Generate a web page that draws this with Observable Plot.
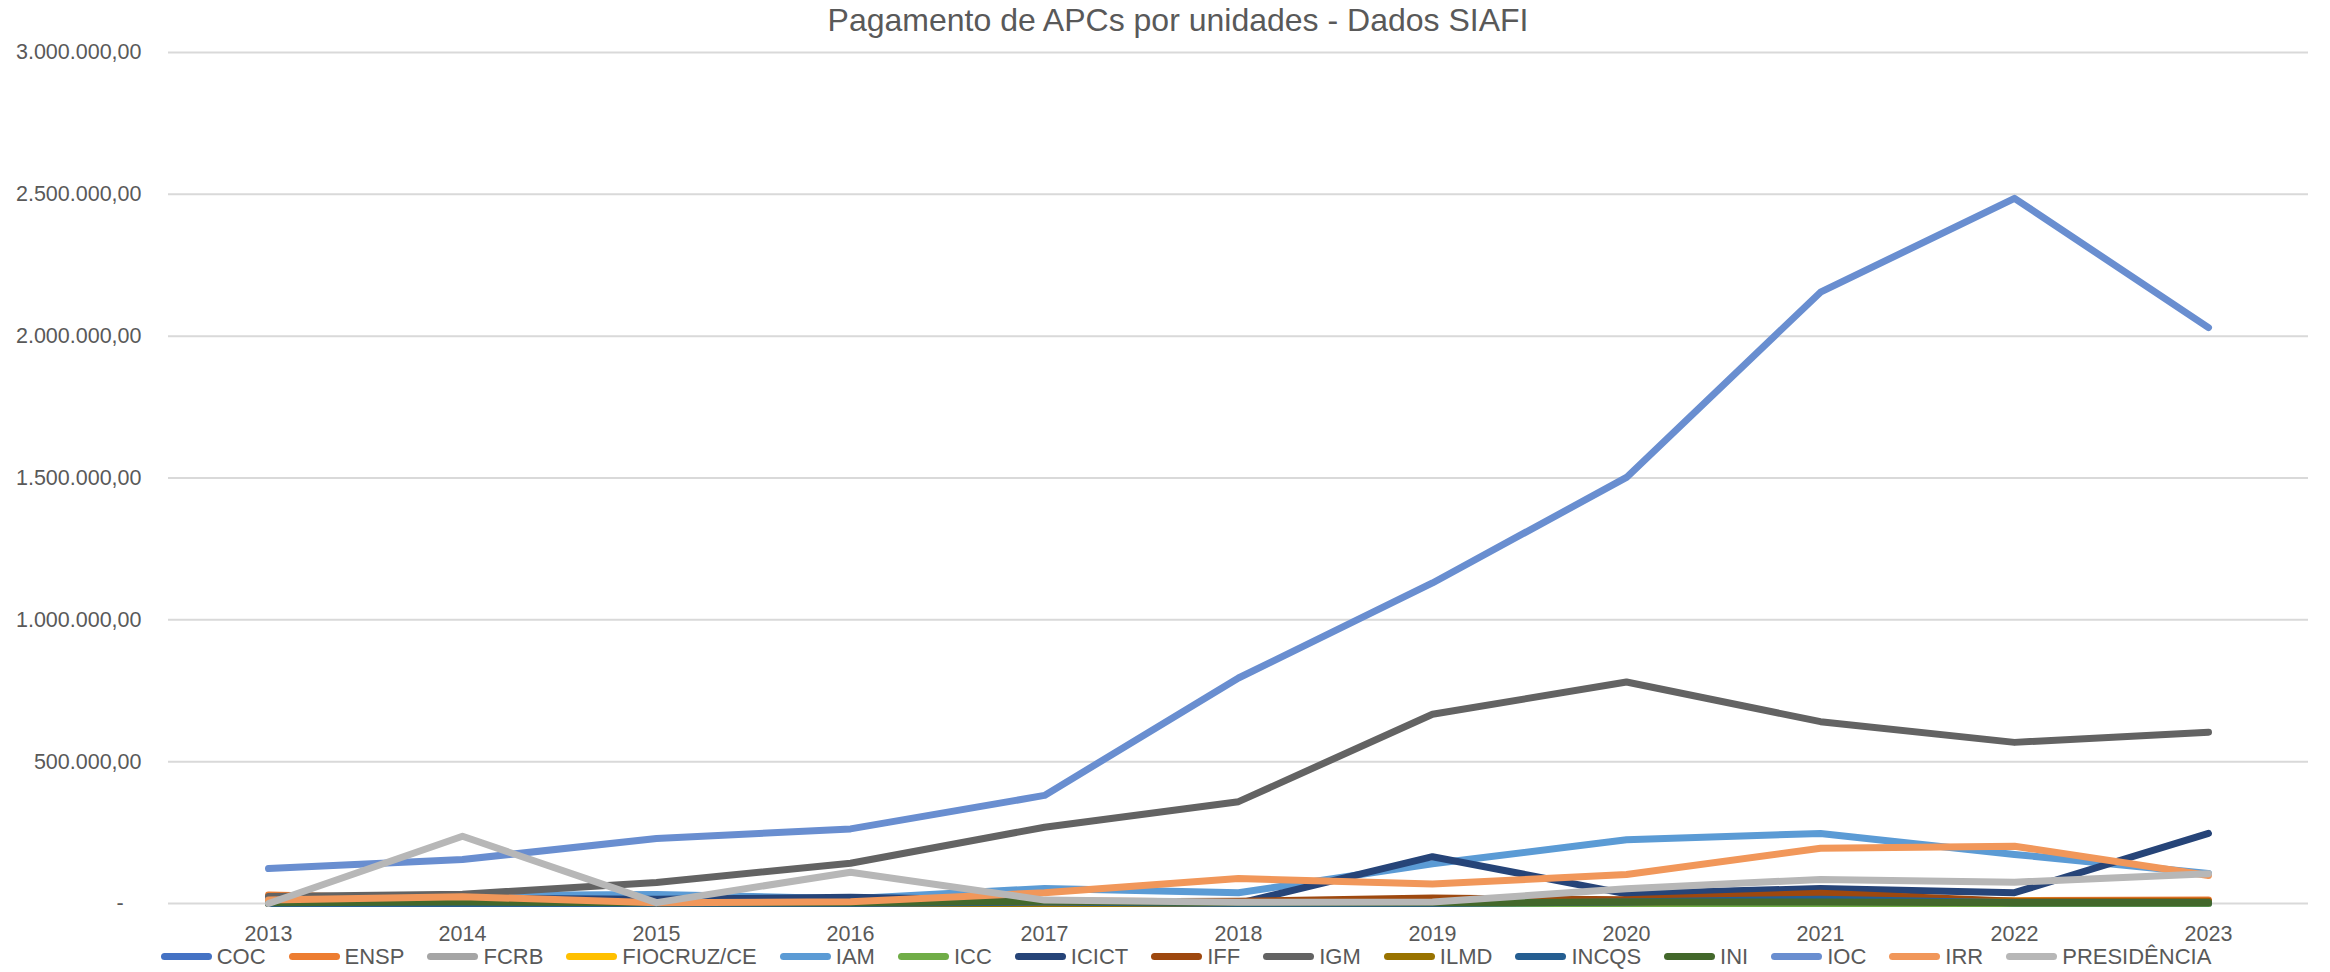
<!DOCTYPE html>
<html>
<head>
<meta charset="utf-8">
<script src="https://cdn.jsdelivr.net/npm/d3@7"></script>
<script src="https://cdn.jsdelivr.net/npm/@observablehq/plot@0.6"></script>
<style>
  html, body { margin: 0; padding: 0; background: #fff; }
  body { width: 2330px; height: 972px; overflow: hidden; font-family: "Liberation Sans", Arial, sans-serif; color: #595959; }
  #title { height: 40px; line-height: 40px; text-align: center; font-size: 32px; padding-left: 26px; box-sizing: border-box; color: #595959; }
  #legend { display: flex; justify-content: center; align-items: center; height: 27px; font-size: 22px; padding-left: 42px; margin-top: -2px; }
  .item { display: flex; align-items: center; margin: 0 11.5px; }
  .sw { display: inline-block; width: 51px; height: 7px; border-radius: 3.5px; margin-right: 5px; }
</style>
</head>
<body>
<div id="title">Pagamento de APCs por unidades - Dados SIAFI</div>
<div id="chart"></div>
<div id="legend"></div>
<script>
const years = [2013, 2014, 2015, 2016, 2017, 2018, 2019, 2020, 2021, 2022, 2023];
const seriesNames = ["COC", "ENSP", "FCRB", "FIOCRUZ/CE", "IAM", "ICC", "ICICT", "IFF", "IGM", "ILMD", "INCQS", "INI", "IOC", "IRR", "PRESIDÊNCIA"];
const seriesColors = ["#4472C4", "#ED7D31", "#A5A5A5", "#FFC000", "#5B9BD5", "#70AD47", "#264478", "#9E480E", "#636363", "#997300", "#255E91", "#43682B", "#698ED0", "#F1975A", "#B7B7B7"];
const yTicks = [0, 500000, 1000000, 1500000, 2000000, 2500000, 3000000];

const COC = [3000, 2000, 0, 0, 5000, 0, 0, 5000, 10000, 0, 0];
const ENSP = [30000, 15000, 5000, 5000, 10000, 5000, 5000, 10000, 15000, 10000, 12000];
const FCRB = [0, 0, 0, 0, 0, 0, 0, 0, 2000, 0, 0];
const FIOCRUZ_CE = [0, 0, 0, 0, 0, 0, 0, 0, 5000, 8000, 3000];
const IAM = [14000, 28000, 32000, 17000, 53000, 38000, 140000, 225000, 247000, 173000, 106000];
const ICC = [0, 0, 0, 0, 0, 0, 0, 0, 0, 0, 0];
const ICICT = [10000, 18000, 15000, 22000, 10000, 0, 165000, 34000, 53000, 38000, 247000];
const IFF = [5000, 5000, 3000, 3000, 5000, 8000, 19000, 13000, 36000, 8000, 8000];
const IGM = [25000, 33000, 74000, 142000, 269000, 359000, 667000, 781000, 641000, 568000, 604000];
const ILMD = [0, 0, 0, 0, 0, 0, 3000, 5000, 10000, 5000, 5000];
const INCQS = [0, 0, 0, 0, 5000, 0, 0, 5000, 15000, 3000, 3000];
const INI = [3000, 5000, 3000, 3000, 8000, 3000, 3000, 5000, 5000, 3000, 3000];
const IOC = [123000, 155000, 229000, 263000, 381000, 795000, 1130000, 1502000, 2155000, 2486000, 2030000];
const IRR = [12000, 24000, 3000, 6000, 38000, 88000, 69000, 102000, 195000, 202000, 99000];
const PRESIDENCIA = [0, 237000, 3000, 110000, 12000, 4000, 5000, 52000, 85000, 75000, 105000];

const seriesValues = [COC, ENSP, FCRB, FIOCRUZ_CE, IAM, ICC, ICICT, IFF, IGM, ILMD, INCQS, INI, IOC, IRR, PRESIDENCIA];

const rows = [];
seriesNames.forEach((name, i) => {
  years.forEach((yr, j) => rows.push({ serie: name, year: String(yr), value: seriesValues[i][j] }));
});

const fmt = v => v === 0 ? "-\u00a0\u00a0\u00a0" :
  d3.format(",.2f")(v).replace(/,/g, "#").replace(/\./g, ",").replace(/#/g, ".");

const chart = Plot.plot({
  width: 2330,
  height: 905,
  marginLeft: 168,
  marginRight: 22,
  marginTop: 12,
  marginBottom: 42,
  style: { fontFamily: '"Liberation Sans", Arial, sans-serif', fontSize: "22px", color: "#595959", background: "#fff", overflow: "visible" },
  x: { type: "point", domain: years.map(String), padding: 0.5 },
  y: { domain: [0, 3000000] },
  color: { domain: seriesNames, range: seriesColors },
  marks: [
    Plot.ruleY(yTicks, { stroke: "#D9D9D9", strokeWidth: 2 }),
    Plot.axisY({ ticks: yTicks, tickFormat: fmt, tickSize: 0, tickPadding: 27, label: null, fill: "#595959", fontSize: 21.5 }),
    Plot.axisX({ tickSize: 0, tickPadding: 22, label: null, fill: "#595959", fontSize: 21.5 }),
    Plot.line(rows, { x: "year", y: "value", z: "serie", stroke: "serie", strokeWidth: 7, strokeLinecap: "round", strokeLinejoin: "round" })
  ]
});
document.getElementById("chart").appendChild(chart);

const legend = document.getElementById("legend");
seriesNames.forEach((name, i) => {
  const it = document.createElement("div");
  it.className = "item";
  const sw = document.createElement("span");
  sw.className = "sw";
  sw.style.background = seriesColors[i];
  const tx = document.createElement("span");
  tx.textContent = name;
  it.appendChild(sw);
  it.appendChild(tx);
  legend.appendChild(it);
});
</script>
</body>
</html>
